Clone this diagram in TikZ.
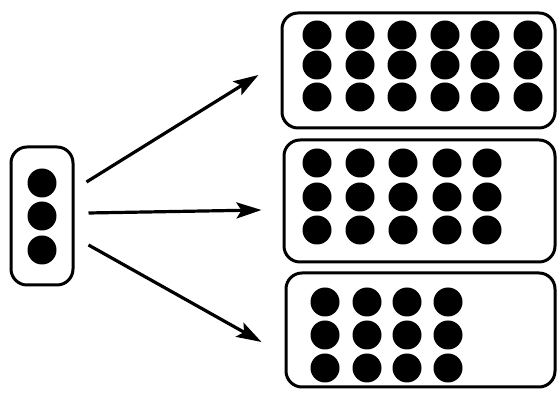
\documentclass[tikz,border=0pt]{standalone}
\usetikzlibrary{arrows.meta}
\tikzset{
    dot/.style={circle, fill, inner sep=0pt, minimum size=29pt}, % 点
    group/.style={draw, line width=3pt, rounded corners=16pt, inner sep=0pt}, % 圆角框
    arrow/.style={line width=3.2pt, -{Stealth[length=25pt, width=16pt, inset=5pt]}}
}
\begin{document}
\begin{tikzpicture}[x=1pt, y=1pt]
    \useasboundingbox (0,0) rectangle (557,395);

    \node[group, minimum width=62pt, minimum height=138pt] (src) at (42,179) {};
    \node[group, minimum width=273pt, minimum height=115pt] (six) at (418.5,324.5) {};
    \node[group, minimum width=271pt, minimum height=122pt] (five) at (419.5,194) {};
    \node[group, minimum width=269pt, minimum height=114pt] (four) at (420.5,65) {};

    \foreach \y [count=\i] in {212,179,145} {\node[dot] (s\i) at (42,\y) {};}
    \foreach \x [count=\i] in {317,360,402,445,485,528} {\foreach \y [count=\j] in {360,330,298} {\node[dot] (a\i\j) at (\x,\y) {};}}
    \foreach \x [count=\i] in {317,360,403,447,487} {\foreach \y [count=\j] in {232,198,165} {\node[dot] (b\i\j) at (\x,\y) {};}}
    \foreach \x [count=\i] in {325,367,407,448} {\foreach \y [count=\j] in {93,60,27} {\node[dot] (c\i\j) at (\x,\y) {};}}

    \draw[arrow] ([shift={(12,34)}]src.east) -- ([shift={(-22,-4.5)}]six.west);
    \draw[arrow] ([shift={(14,3)}]src.east) -- ([shift={(-21,-9)}]five.west);
    \draw[arrow] ([shift={(14,-29)}]src.east) -- ([shift={(-23,-12)}]four.west);
\end{tikzpicture}
\end{document}
